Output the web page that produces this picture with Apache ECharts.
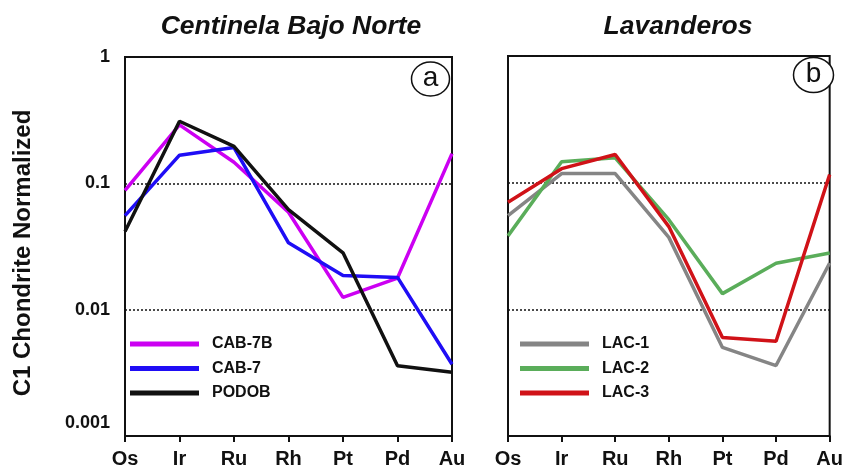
<!DOCTYPE html>
<html><head><meta charset="utf-8">
<script src="https://cdn.jsdelivr.net/npm/echarts@6/dist/echarts.min.js"></script>
<style>html,body{margin:0;padding:0;background:#fff}#c{width:846px;height:471px}</style>
</head><body><div id="c"></div>
<script>
const elements = ['Os','Ir','Ru','Rh','Pt','Pd','Au'];
const yTickLabels = {1:'1',0.1:'0.1',0.01:'0.01',0.001:'0.001'};
const titleLeft = 'Centinela Bajo Norte';
const titleRight = 'Lavanderos';
const yName = 'C1 Chondrite Normalized';

const cab7b = [0.088, 0.29, 0.147, 0.059, 0.0125, 0.0178, 0.172];
const cab7  = [0.0555, 0.167, 0.192, 0.0338, 0.0186, 0.018, 0.0037];
const podob = [0.0415, 0.31, 0.196, 0.062, 0.0282, 0.0036, 0.0032];

const lac1 = [0.055, 0.118, 0.118, 0.037, 0.0050, 0.0036, 0.0232];
const lac2 = [0.038, 0.146, 0.157, 0.051, 0.0133, 0.0231, 0.0278];
const lac3 = [0.070, 0.129, 0.167, 0.045, 0.0060, 0.0056, 0.116];

const FONT = 'Liberation Sans, Arial, sans-serif';
const chart = echarts.init(document.getElementById('c'));

function xAxis(gi){
  return {
    type:'category', gridIndex:gi, data:elements, boundaryGap:false,
    axisLine:{show:true, lineStyle:{color:'#111', width:2}},
    axisTick:{show:true, length:6, lineStyle:{color:'#111', width:2}},
    axisLabel:{color:'#111', fontSize:20, fontWeight:'bold', fontFamily:FONT, margin:13},
    splitLine:{show:false}
  };
}
function yAxis(gi, showLabels){
  return {
    type:'log', logBase:10, gridIndex:gi, min:0.001, max:1,
    axisLine:{show:true, lineStyle:{color:'#111', width:2}},
    axisTick:{show:false},
    axisLabel:{show:showLabels, color:'#111', fontSize:18, fontWeight:'bold', fontFamily:FONT, margin:15,
      formatter:v=>{
        for(const k in yTickLabels){
          if(Math.abs(Math.log10(v)-Math.log10(+k))<1e-6){
            return (+k===0.001) ? '{low|'+yTickLabels[k]+'}' : yTickLabels[k];
          }
        }
        return '';
      },
      rich:{low:{fontSize:18, fontWeight:'bold', fontFamily:FONT, color:'#111', padding:[0,0,26,0]}}
    },
    splitLine:{show:true, lineStyle:{color:'#111', type:[2,2], width:1.5}},
    name: showLabels ? yName : '',
    nameLocation:'middle', nameRotate:90, nameGap:90,
    nameTextStyle:{color:'#111', fontSize:24, fontWeight:'bold', fontFamily:FONT, padding:[0,13,0,0]}
  };
}
function line(name, data, color, gi){
  return {name, type:'line', xAxisIndex:gi, yAxisIndex:gi, data, symbol:'none',
    lineStyle:{color, width:3.5}, itemStyle:{color}, z:3};
}
function legend(left, names){
  return {
    left, top:336, orient:'vertical', itemGap:8.5, itemWidth:69, itemHeight:5, padding:0,
    icon:'rect', data:names,
    textStyle:{color:'#111', fontSize:16, lineHeight:16, fontWeight:'bold', fontFamily:FONT, padding:[0,0,0,8]}
  };
}

chart.setOption({
  animation:false,
  backgroundColor:'#fff',
  title:[
    {text:titleLeft, left:286, top:8, textAlign:'center',
     textStyle:{fontSize:26.5, fontWeight:'bold', fontStyle:'italic', color:'#111', fontFamily:FONT}},
    {text:titleRight, left:673, top:8, textAlign:'center',
     textStyle:{fontSize:26.5, fontWeight:'bold', fontStyle:'italic', color:'#111', fontFamily:FONT}}
  ],
  grid:[
    {left:125, top:57, width:327, height:379, show:true, borderColor:'#111', borderWidth:2, backgroundColor:'transparent'},
    {left:508, top:56, width:326, height:380, show:true, borderColor:'#111', borderWidth:2, backgroundColor:'transparent'}
  ],
  xAxis:[xAxis(0), xAxis(1)],
  yAxis:[yAxis(0,true), yAxis(1,false)],
  legend:[legend(130, ['CAB-7B','CAB-7','PODOB']), legend(520, ['LAC-1','LAC-2','LAC-3'])],
  series:[
    line('CAB-7B', cab7b, '#cc00f2', 0),
    line('CAB-7', cab7, '#1f0df5', 0),
    line('PODOB', podob, '#111111', 0),
    line('LAC-1', lac1, '#858585', 1),
    line('LAC-2', lac2, '#5aad5a', 1),
    line('LAC-3', lac3, '#d01218', 1)
  ],
  graphic:[
    {type:'ellipse', shape:{cx:430.5, cy:79, rx:19, ry:17}, style:{fill:'#fff', stroke:'#111', lineWidth:1.5}, z:10},
    {type:'text', x:430.5, y:78, style:{text:'a', fontSize:28, fontFamily:FONT, fill:'#111', align:'center', verticalAlign:'middle'}, z:11},
    {type:'ellipse', shape:{cx:813.5, cy:75, rx:20, ry:17.5}, style:{fill:'#fff', stroke:'#111', lineWidth:1.5}, z:10},
    {type:'text', x:813.5, y:74, style:{text:'b', fontSize:28, fontFamily:FONT, fill:'#111', align:'center', verticalAlign:'middle'}, z:11}
  ]
});
</script></body></html>
